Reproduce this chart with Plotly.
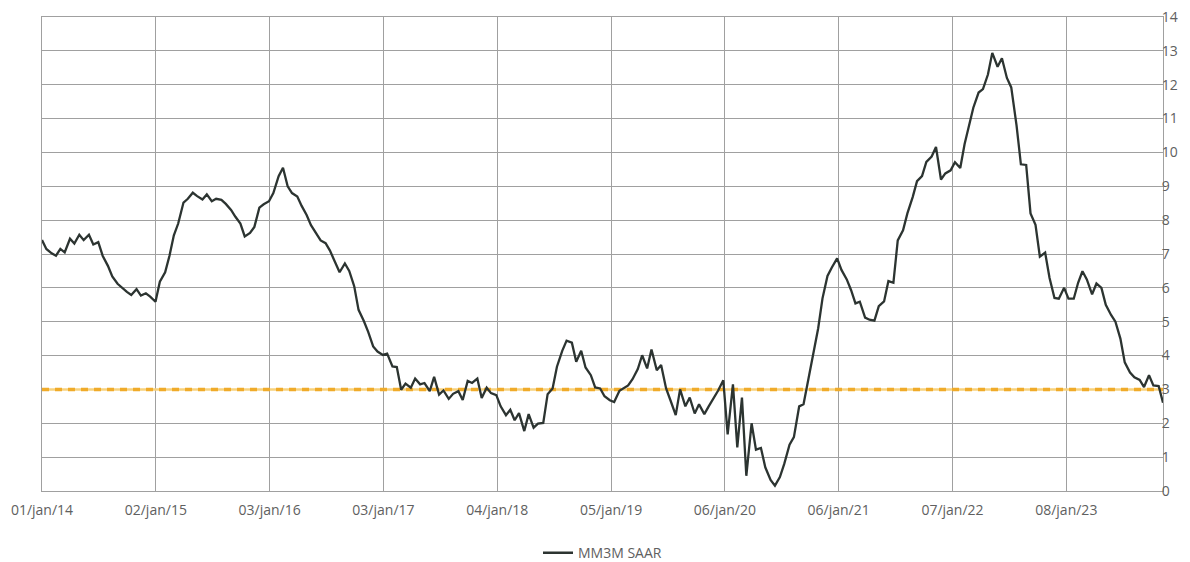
import pandas as pd
import plotly.graph_objects as go

# ---- data (semi-monthly readings, 1st and 15th of each month) ----
start_date = "2014-01-01"
v2014 = [7.41, 7.15, 7.02, 6.95, 7.15, 7.05, 7.45, 7.31, 7.57, 7.41, 7.57, 7.28,
         7.35, 6.95, 6.65, 6.34, 6.12, 6.00, 5.88, 5.79, 5.96, 5.77, 5.84, 5.74]
v2015 = [5.59, 6.18, 6.46, 6.95, 7.55, 7.90, 8.52, 8.63, 8.81, 8.71, 8.61, 8.76,
         8.56, 8.63, 8.60, 8.48, 8.30, 8.10, 7.90, 7.52, 7.62, 7.80, 8.37, 8.47]
v2016 = [8.56, 8.80, 9.30, 9.55, 9.00, 8.80, 8.70, 8.42, 8.15, 7.85, 7.58, 7.40,
         7.32, 7.10, 6.75, 6.46, 6.72, 6.50, 6.05, 5.35, 5.02, 4.70, 4.27, 4.12]
v2017 = [4.02, 4.06, 3.68, 3.66, 2.99, 3.17, 3.05, 3.32, 3.15, 3.19, 2.95, 3.37,
         2.85, 2.97, 2.72, 2.87, 2.95, 2.69, 3.25, 3.19, 3.32, 2.75, 3.05, 2.89]
v2018 = [2.83, 2.50, 2.24, 2.40, 2.09, 2.30, 1.77, 2.27, 1.87, 1.99, 2.01, 2.86,
         3.03, 3.67, 4.14, 4.44, 4.38, 3.82, 4.14, 3.65, 3.42, 3.06, 3.03, 2.80]
v2019 = [2.68, 2.63, 2.96, 3.03, 3.12, 3.30, 3.60, 4.01, 3.62, 4.18, 3.57, 3.72,
         3.03, 2.68, 2.24, 3.00, 2.50, 2.76, 2.29, 2.56, 2.27, 2.50, 2.75, 2.96]
v2020 = [3.27, 1.67, 3.15, 1.29, 2.76, 0.45, 2.00, 1.22, 1.27, 0.70, 0.33, 0.16,
         0.41, 0.80, 1.37, 1.59, 2.50, 2.56, 3.32, 3.98, 4.80, 5.69, 6.35, 6.60]
v2021 = [6.87, 6.53, 6.25, 5.93, 5.54, 5.59, 5.12, 5.06, 5.03, 5.46, 5.60, 6.20,
         6.15, 7.40, 7.70, 8.20, 8.68, 9.15, 9.30, 9.72, 9.88, 10.16, 9.20, 9.38]
v2022 = [9.47, 9.71, 9.54, 10.25, 10.80, 11.32, 11.77, 11.87, 12.30, 12.94, 12.53, 12.78,
         12.20, 11.92, 10.80, 9.65, 9.63, 8.20, 7.86, 6.92, 7.04, 6.30, 5.70, 5.68]
v2023 = [6.00, 5.68, 5.68, 6.15, 6.49, 6.25, 5.81, 6.13, 6.00, 5.50, 5.20,
         5.00, 4.50, 3.80, 3.50, 3.36, 3.28, 3.07, 3.42, 3.12, 3.10, 2.61]

series_name = "MM3M SAAR"
target = 3.0

tick_dates = ["2014-01-01", "2015-01-02", "2016-01-03", "2017-01-03", "2018-01-04",
              "2019-01-05", "2020-01-06", "2021-01-06", "2022-01-07", "2023-01-08"]
tick_labels = ["01/jan/14", "02/jan/15", "03/jan/16", "03/jan/17", "04/jan/18",
               "05/jan/19", "06/jan/20", "06/jan/21", "07/jan/22", "08/jan/23"]

values = v2014 + v2015 + v2016 + v2017 + v2018 + v2019 + v2020 + v2021 + v2022 + v2023
dates = pd.date_range(start=start_date, periods=len(values), freq="SMS")

FONT = "Open Sans"
GRID = "#a0a0a0"
TXT = "#606060"

fig = go.Figure()

# target line (two layers to mimic the dashed orange look)
fig.add_trace(go.Scatter(x=[dates[0], dates[-1]], y=[target, target], mode="lines",
                         line=dict(color="#f7d27e", width=2.5), showlegend=False,
                         hoverinfo="skip"))
fig.add_trace(go.Scatter(x=[dates[0], dates[-1]], y=[target, target], mode="lines",
                         line=dict(color="#f0ab2a", width=3.5, dash="7px,6px"),
                         showlegend=False, hoverinfo="skip"))

fig.add_trace(go.Scatter(x=dates, y=values, mode="lines", name=series_name,
                         line=dict(color="#2c3431", width=2.3)))

fig.update_layout(
    width=1190, height=562,
    margin=dict(l=34, r=35, t=9, b=79),
    paper_bgcolor="white", plot_bgcolor="white",
    font=dict(family=FONT, size=14, color=TXT),
    showlegend=True,
    legend=dict(orientation="h", x=0.5, xanchor="center",
                yref="container", y=0.03, yanchor="middle",
                font=dict(family=FONT, size=14, color=TXT), itemwidth=30),
)
fig.update_xaxes(
    type="date", range=[dates[0], dates[-1]],
    tickmode="array", tickvals=tick_dates, ticktext=tick_labels,
    showgrid=True, gridcolor=GRID, gridwidth=1,
    showline=True, linecolor=GRID, linewidth=1, mirror=True,
    ticks="", tickfont=dict(family=FONT, size=14, color=TXT), zeroline=False,
    automargin=False, ticklabelstandoff=6, ticklabeloverflow="allow",
)
fig.update_yaxes(
    side="right", range=[0, 14], dtick=1, tick0=0,
    showgrid=True, gridcolor=GRID, gridwidth=1,
    showline=True, linecolor=GRID, linewidth=1, mirror=True,
    ticks="", tickfont=dict(family=FONT, size=14, color=TXT), zeroline=False,
    automargin=False, ticklabelstandoff=-5, ticklabeloverflow="allow",
)

fig.write_html("out.html")
